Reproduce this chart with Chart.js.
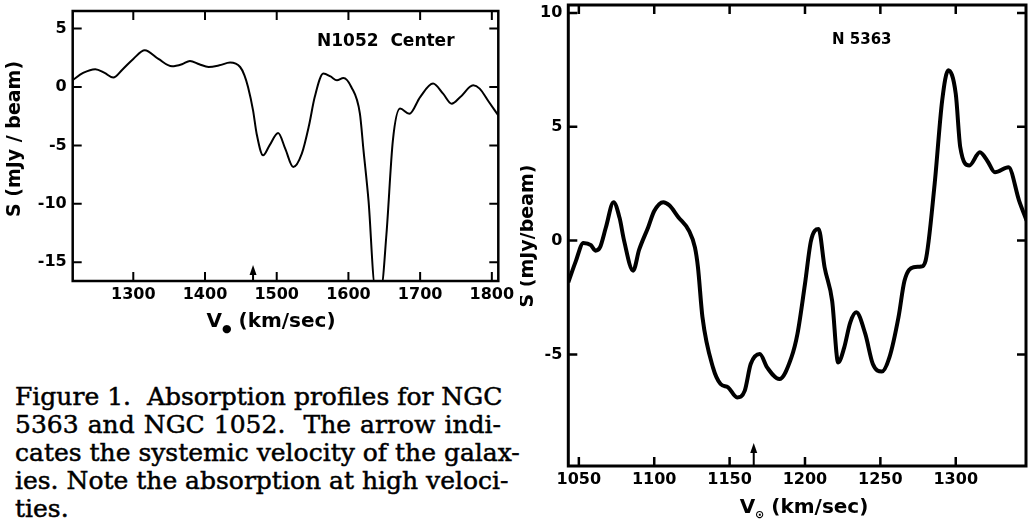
<!DOCTYPE html>
<html>
<head>
<meta charset="utf-8">
<script src="https://cdn.jsdelivr.net/npm/chart.js@4.4.0/dist/chart.umd.min.js"></script>
<style>
  html, body { margin: 0; padding: 0; background: #fff; }
  body { width: 1030px; height: 521px; position: relative; overflow: hidden; }
  #leftWrap { position: absolute; left: 0; top: 0; width: 520px; height: 340px; }
  #rightWrap { position: absolute; left: 520px; top: 0; width: 510px; height: 521px; }
  #caption { position: absolute; left: 15px; top: 383px; width: 486px; font-family: "DejaVu Serif", serif; font-size: 25px; line-height: 28px; color: #000; -webkit-text-stroke: 0.5px #000; }
  #caption div { white-space: nowrap; text-align: justify; text-align-last: justify; }
  #caption div.last { text-align-last: left; }
</style>
</head>
<body>
<div id="leftWrap"><canvas id="n1052" width="520" height="340"></canvas></div>
<div id="rightWrap"><canvas id="n5363" width="510" height="521"></canvas></div>
<div id="caption">
  <div>Figure 1.&nbsp; Absorption profiles for NGC</div>
  <div>5363 and NGC 1052.&nbsp; The arrow indi-</div>
  <div>cates the systemic velocity of the galax-</div>
  <div>ies. Note the absorption at high veloci-</div>
  <div class="last">ties.</div>
</div>
<script>
// NGC 1052 center profile (km/sec, mJy/beam)
const n1052Vel = [1215, 1230, 1247, 1260, 1272, 1285, 1300, 1316, 1335, 1354, 1368, 1379, 1392, 1405,
    1420, 1435, 1449, 1455, 1460, 1467, 1472, 1481, 1490, 1502, 1512, 1523, 1535, 1545, 1553, 1565,
    1575, 1584, 1593, 1604, 1616, 1621, 1628, 1637, 1646, 1653, 1662, 1672, 1685, 1700, 1718, 1732,
    1744, 1756, 1774, 1783, 1795, 1809];
const n1052Flux = [0.57, 1.2, 1.52, 1.2, 0.8, 1.5, 2.4, 3.14, 2.4, 1.77, 1.95, 2.23, 1.95, 1.71,
    1.85, 2.09, 1.71, 1.0, 0, -2.0, -4.0, -5.85, -5.0, -3.94, -5.3, -6.85, -5.7, -3.3, -0.86, 1.15,
    0.9, 0.57, 0.77, 0, -2.28, -5.4, -9.7, -17, -17, -12.6, -4.57, -1.85, -2.3, -0.86, 0.29, -0.57,
    -1.43, -0.86, 0.14, -0.14, -1.2, -2.43];
const n1052XTicks = [1300, 1400, 1500, 1600, 1700, 1800];
const n1052YTicks = [5, 0, -5, -10, -15];
const n1052Systemic = 1467;

// NGC 5363 profile
const n5363Vel = [1043, 1048, 1053, 1058, 1061, 1064, 1068, 1073, 1077, 1080, 1086, 1090, 1096, 1100,
    1106, 1110, 1116, 1123, 1127, 1129, 1132, 1139, 1144, 1149, 1155, 1160, 1164, 1170, 1175, 1183,
    1191, 1195, 1200, 1204, 1209, 1213, 1218, 1222, 1226, 1230, 1234, 1240, 1245, 1251, 1256, 1262,
    1266, 1272, 1277, 1280, 1286, 1291, 1295, 1300, 1303, 1309, 1316, 1321, 1326, 1335, 1342, 1347];
const n5363Flux = [-1.83, -0.9, -0.1, -0.2, -0.44, -0.3, 0.6, 1.69, 1.0, 0, -1.32, -0.4, 0.59, 1.3,
    1.69, 1.55, 1.03, 0.44, -0.3, -1.17, -3.37, -5.58, -6.3, -6.45, -6.89, -6.6, -5.42, -4.98, -5.58, -6.08,
    -5.13, -4.1, -1.9, 0, 0.51, -1.17, -2.64, -5.35, -4.7, -3.6, -3.15, -4.1, -5.42, -5.75, -5.13, -3.37,
    -1.76, -1.17, -1.14, -0.88, 2.49, 6.16, 7.48, 6.45, 4.1, 3.3, 3.88, 3.5, 3.0, 3.22, 1.76, 0.88];
const n5363XTicks = [1050, 1100, 1150, 1200, 1250, 1300];
const n5363YTicks = [10, 5, 0, -5];
const n5363Systemic = 1166;

const labelFont = '"DejaVu Sans", sans-serif';

// Box frame, inward ticks on all sides, systemic arrow and hand labels
const frameTicks = {
    id: 'frameTicks',
    afterDatasetsDraw(chart, args, o) {
        const { ctx, chartArea: a, scales: { x, y } } = chart;
        ctx.save();
        ctx.strokeStyle = '#000';
        ctx.fillStyle = '#000';
        ctx.lineWidth = o.frameWidth;
        ctx.strokeRect(a.left, a.top, a.right - a.left, a.bottom - a.top);

        ctx.lineWidth = o.tickWidth;
        ctx.beginPath();
        x.ticks.forEach(t => {
            const px = x.getPixelForValue(t.value);
            ctx.moveTo(px, a.bottom); ctx.lineTo(px, a.bottom - o.tickLen);
            ctx.moveTo(px, a.top); ctx.lineTo(px, a.top + o.tickLen);
        });
        y.ticks.forEach(t => {
            const py = y.getPixelForValue(t.value);
            ctx.moveTo(a.left, py); ctx.lineTo(a.left + o.tickLen, py);
            ctx.moveTo(a.right, py); ctx.lineTo(a.right - o.tickLen, py);
        });
        ctx.stroke();

        // arrow at systemic velocity
        const ax = x.getPixelForValue(o.arrowAt);
        ctx.lineWidth = 2;
        ctx.beginPath();
        ctx.moveTo(ax, a.bottom);
        ctx.lineTo(ax, a.bottom - o.arrowLen + 6);
        ctx.stroke();
        ctx.beginPath();
        ctx.moveTo(ax, a.bottom - o.arrowLen);
        ctx.lineTo(ax - 3.5, a.bottom - o.arrowLen + 10);
        ctx.lineTo(ax + 3.5, a.bottom - o.arrowLen + 10);
        ctx.closePath();
        ctx.fill();

        // galaxy label
        ctx.font = 'bold ' + o.nameSize + 'px ' + labelFont;
        ctx.textAlign = 'left';
        ctx.textBaseline = 'middle';
        ctx.fillText(o.name, o.nameX, o.nameY);

        // y title
        ctx.save();
        ctx.translate(o.yTitleX, o.yTitleY);
        ctx.rotate(-Math.PI / 2);
        ctx.font = 'bold 19px ' + labelFont;
        ctx.textAlign = 'center';
        ctx.fillText(o.yTitle, 0, 0);
        ctx.restore();

        // x title: V with solar subscript
        const big = 'bold 20px ' + labelFont;
        const small = 'bold 11px ' + labelFont;
        ctx.font = big;
        const wV = ctx.measureText('V').width;
        const wRest = ctx.measureText(' (km/sec)').width;
        ctx.font = small;
        const wSub = ctx.measureText(o.sunSym).width;
        let sx = o.xTitleX - (wV + wSub + wRest) / 2;
        ctx.font = big;
        ctx.fillText('V', sx, o.xTitleY);
        sx += wV;
        ctx.font = small;
        ctx.fillText(o.sunSym, sx, o.xTitleY + 7);
        sx += wSub;
        ctx.font = big;
        ctx.fillText(' (km/sec)', sx, o.xTitleY);
        ctx.restore();
    }
};

function makeProfile(canvasId, vel, flux, xTicks, yTicks, dims, deco) {
    const ctx = document.getElementById(canvasId);
    return new Chart(ctx, {
        type: 'line',
        data: {
            datasets: [{
                data: vel.map((v, i) => ({ x: v, y: flux[i] })),
                borderColor: '#000',
                borderWidth: dims.lineWidth,
                pointRadius: 0,
                cubicInterpolationMode: 'monotone',
                fill: false
            }]
        },
        options: {
            responsive: false,
            animation: false,
            layout: { padding: { top: dims.padTop, right: dims.padRight, left: 0, bottom: 0 } },
            plugins: {
                legend: { display: false },
                tooltip: { enabled: false },
                frameTicks: deco
            },
            scales: {
                x: {
                    type: 'linear',
                    min: dims.xMin,
                    max: dims.xMax,
                    grid: { display: false, drawTicks: false },
                    border: { display: false },
                    afterBuildTicks: s => { s.ticks = xTicks.map(v => ({ value: v })); },
                    afterFit: s => { s.height = dims.xAxisH; s.paddingLeft = 0; s.paddingRight = 0; },
                    ticks: {
                        autoSkip: false,
                        maxRotation: 0,
                        padding: dims.xPad,
                        color: '#000',
                        font: { family: labelFont, size: 16, weight: 'bold' },
                        callback: v => String(v)
                    }
                },
                y: {
                    type: 'linear',
                    min: dims.yMin,
                    max: dims.yMax,
                    grid: { display: false, drawTicks: false },
                    border: { display: false },
                    afterBuildTicks: s => { s.ticks = yTicks.map(v => ({ value: v })); },
                    afterFit: s => { s.width = dims.yAxisW; s.paddingTop = 0; s.paddingBottom = 0; },
                    ticks: {
                        padding: dims.yPad,
                        color: '#000',
                        font: { family: labelFont, size: 16, weight: 'bold' },
                        callback: v => String(v)
                    }
                }
            }
        },
        plugins: [frameTicks]
    });
}

makeProfile('n1052', n1052Vel, n1052Flux, n1052XTicks, n1052YTicks,
    { lineWidth: 2, padTop: 11, padRight: 21.7, xAxisH: 59, yAxisW: 72.7, xPad: 4, yPad: 6,
      xMin: 1215.5, xMax: 1809, yMin: -16.6, yMax: 6.5 },
    { frameWidth: 2.5, tickWidth: 2, tickLen: 9, arrowAt: n1052Systemic, arrowLen: 16,
      name: 'N1052  Center', nameSize: 17, nameX: 317, nameY: 42,
      yTitle: 'S (mJy / beam)', yTitleX: 15, yTitleY: 139,
      sunSym: '\u25CF', xTitleX: 271, xTitleY: 322 });

makeProfile('n5363', n5363Vel, n5363Flux, n5363XTicks, n5363YTicks,
    { lineWidth: 4, padTop: 5, padRight: 4, xAxisH: 55, yAxisW: 48.3, xPad: 4, yPad: 6,
      xMin: 1043, xMax: 1346.6, yMin: -9.9, yMax: 10.35 },
    { frameWidth: 3, tickWidth: 2.5, tickLen: 9, arrowAt: n5363Systemic, arrowLen: 23,
      name: 'N 5363', nameSize: 15, nameX: 312, nameY: 40,
      yTitle: 'S (mJy/beam)', yTitleX: 8, yTitleY: 236,
      sunSym: '\u2299', xTitleX: 284, xTitleY: 508 });
</script>
</body>
</html>
